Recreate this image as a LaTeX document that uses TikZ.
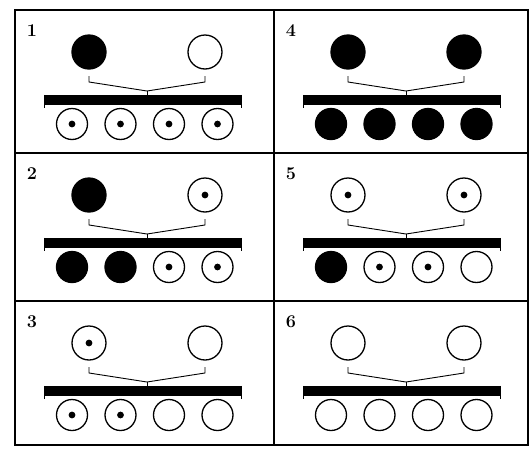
\documentclass[tikz,border=0pt]{standalone}
\usepackage{fix-cm}
\usepackage{tikz}
\usetikzlibrary{calc}

\tikzset{
  ball/.style={circle,draw,line width=1.3pt,inner sep=0pt,minimum size=#1},
  filled/.style={fill=black},
  hollow/.style={fill=white},
  seeded/.style={path picture={\fill (path picture bounding box.center) circle (3.4pt);}},
  beam/.style={rectangle,fill=black,inner sep=0pt,minimum width=196pt,minimum height=10pt},
  brace/.style={line width=0.9pt},
  frame/.style={line width=2.6pt},
  tag/.style={font=\fontsize{18}{18}\selectfont\bfseries,inner sep=0pt}
}

\begin{document}
\begin{tikzpicture}[x=1pt,y=-1pt]
  \useasboundingbox (0,0) rectangle (531,453);
  % frame and dividers
  \draw[frame] (15,10) rectangle (528,445);
  \draw[frame] (274,10) -- (274,445);
  \draw[frame] (15,153) -- (528,153);
  \draw[frame] (15,301) -- (528,301);

  % panel: number / origin / two parents / four offspring
  \foreach \n/\px/\py/\ta/\tb/\ba/\bb/\bc/\bd in {
      1/15/10/filled/hollow/seeded/seeded/seeded/seeded,
      2/15/153/filled/seeded/filled/filled/seeded/seeded,
      3/15/301/seeded/hollow/seeded/seeded/hollow/hollow,
      4/274/10/filled/filled/filled/filled/filled/filled,
      5/274/153/seeded/seeded/filled/seeded/seeded/hollow,
      6/274/301/hollow/hollow/hollow/hollow/hollow/hollow}{
    \node[tag] (lab\n) at (\px+17,\py+21) {\n};
    \node[ball=34pt,\ta] (pa\n) at (\px+74,\py+42) {};
    \node[ball=34pt,\tb] (pb\n) at (\px+190,\py+42) {};
    \node[beam] (beam\n) at (\px+128,\py+90) {};
    \draw[brace] (beam\n.north west) -- ++(0,13);
    \draw[brace] (beam\n.north east) -- ++(0,13);
    \coordinate (hl\n) at (\px+74,\py+66);
    \coordinate (hr\n) at (\px+190,\py+66);
    \coordinate (hm\n) at (\px+132,\py+81);
    \draw[brace] (hl\n) -- ++(0,6) -- (hm\n) -- ($(hr\n)+(0,6)$) -- (hr\n);
    \draw[brace] (hm\n) -- (hm\n |- beam\n.north);
    \foreach \k/\kind in {1/\ba,2/\bb,3/\bc,4/\bd}
      \node[ball=31pt,\kind] (kid\n\k) at ({\px+57+48.5*(\k-1)},\py+114) {};
  }
\end{tikzpicture}
\end{document}
